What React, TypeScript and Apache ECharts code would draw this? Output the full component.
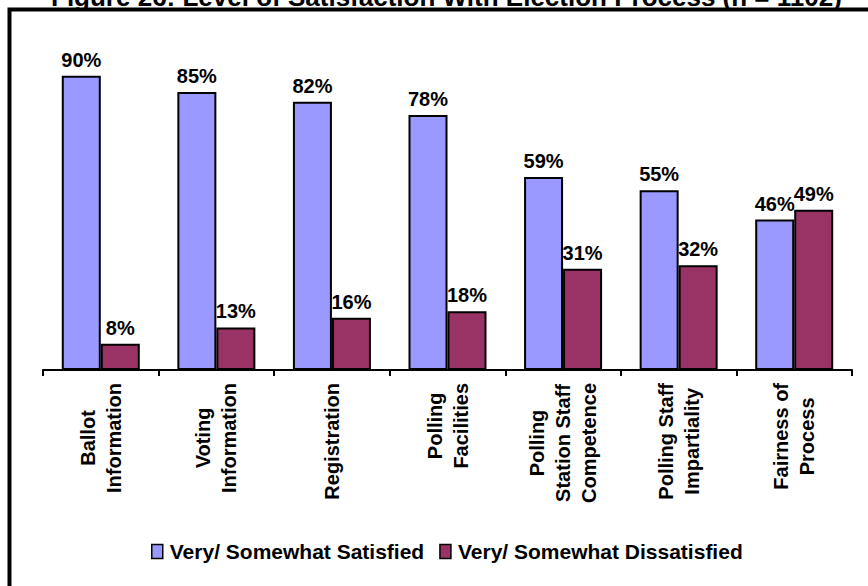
import React, { useEffect, useRef } from "react";
import * as echarts from "echarts";

const titleText = "Figure 26: Level of Satisfaction With Election Process (n = 1102)";
const categories = [
  "Ballot\nInformation",
  "Voting\nInformation",
  "Registration",
  "Polling\nFacilities",
  "Polling\nStation Staff\nCompetence",
  "Polling Staff\nImpartiality",
  "Fairness of\nProcess",
];
const satisfied = [90, 85, 82, 78, 59, 55, 46];
const dissatisfied = [8, 13, 16, 18, 31, 32, 49];
const seriesNames = ["Very/ Somewhat Satisfied", "Very/ Somewhat Dissatisfied"];

const FONT = 'Arial, "Liberation Sans", sans-serif';

export default function App() {
  const ref = useRef<HTMLDivElement>(null);
  useEffect(() => {
    if (!ref.current) return;
    const chart = echarts.init(ref.current, undefined, { renderer: "svg" });
    const labelStyle = {
      show: true,
      position: "top" as const,
      distance: 6,
      formatter: "{c}%",
      color: "#000",
      fontFamily: FONT,
      fontWeight: "bold" as const,
      fontSize: 20,
    };
    chart.setOption({
      animation: false,
      backgroundColor: "#fff",
      title: {
        text: titleText,
        left: 46,
        top: -21,
        textStyle: { fontFamily: FONT, fontWeight: "bold", fontSize: 26, color: "#000" },
      },
      graphic: [
        {
          type: "rect",
          shape: { x: 9.5, y: 9.5, width: 1000, height: 1000 },
          style: { fill: "none", stroke: "#000", lineWidth: 4 },
          silent: true,
        },
      ],
      legend: {
        data: seriesNames,
        left: 151,
        top: 541,
        padding: 0,
        itemWidth: 11,
        itemHeight: 14,
        itemGap: 15,
        icon: "rect",
        textStyle: { fontFamily: FONT, fontWeight: "bold", fontSize: 21, color: "#000", padding: [0, 0, 0, 2] },
        itemStyle: { borderColor: "#000", borderWidth: 1.5 },
      },
      grid: { left: 43, right: 16, top: 43, bottom: 216, containLabel: false },
      xAxis: {
        type: "category",
        data: categories,
        axisLine: { lineStyle: { color: "#000", width: 2 } },
        axisTick: { show: true, length: 6, lineStyle: { color: "#000", width: 2 } },
        axisLabel: {
          rotate: 90,
          interval: 0,
          margin: 13,
          color: "#000",
          fontFamily: FONT,
          fontWeight: "bold",
          fontSize: 20,
          lineHeight: 26,
          formatter: (v: string) =>
            v
              .split("\n")
              .map((l) => "{c|" + l + "}")
              .join("\n"),
          rich: {
            c: {
              align: "center",
              fontFamily: FONT,
              fontWeight: "bold",
              fontSize: 20,
              lineHeight: 26,
              color: "#000",
            },
          },
        },
      },
      yAxis: {
        type: "value",
        min: 0,
        max: 100,
        show: false,
        splitLine: { show: false },
      },
      series: [
        {
          name: seriesNames[0],
          type: "bar",
          data: satisfied,
          barWidth: 39,
          barGap: "0%",
          itemStyle: { color: "#9999FF", borderColor: "#000", borderWidth: 2 },
          label: labelStyle,
        },
        {
          name: seriesNames[1],
          type: "bar",
          data: dissatisfied,
          barWidth: 39,
          barGap: "0%",
          itemStyle: { color: "#993366", borderColor: "#000", borderWidth: 2 },
          label: labelStyle,
        },
      ],
    });
    return () => chart.dispose();
  }, []);
  return (
    <div
      ref={ref}
      style={{ position: "absolute", left: 0, top: 0, width: 868, height: 586 }}
    />
  );
}
